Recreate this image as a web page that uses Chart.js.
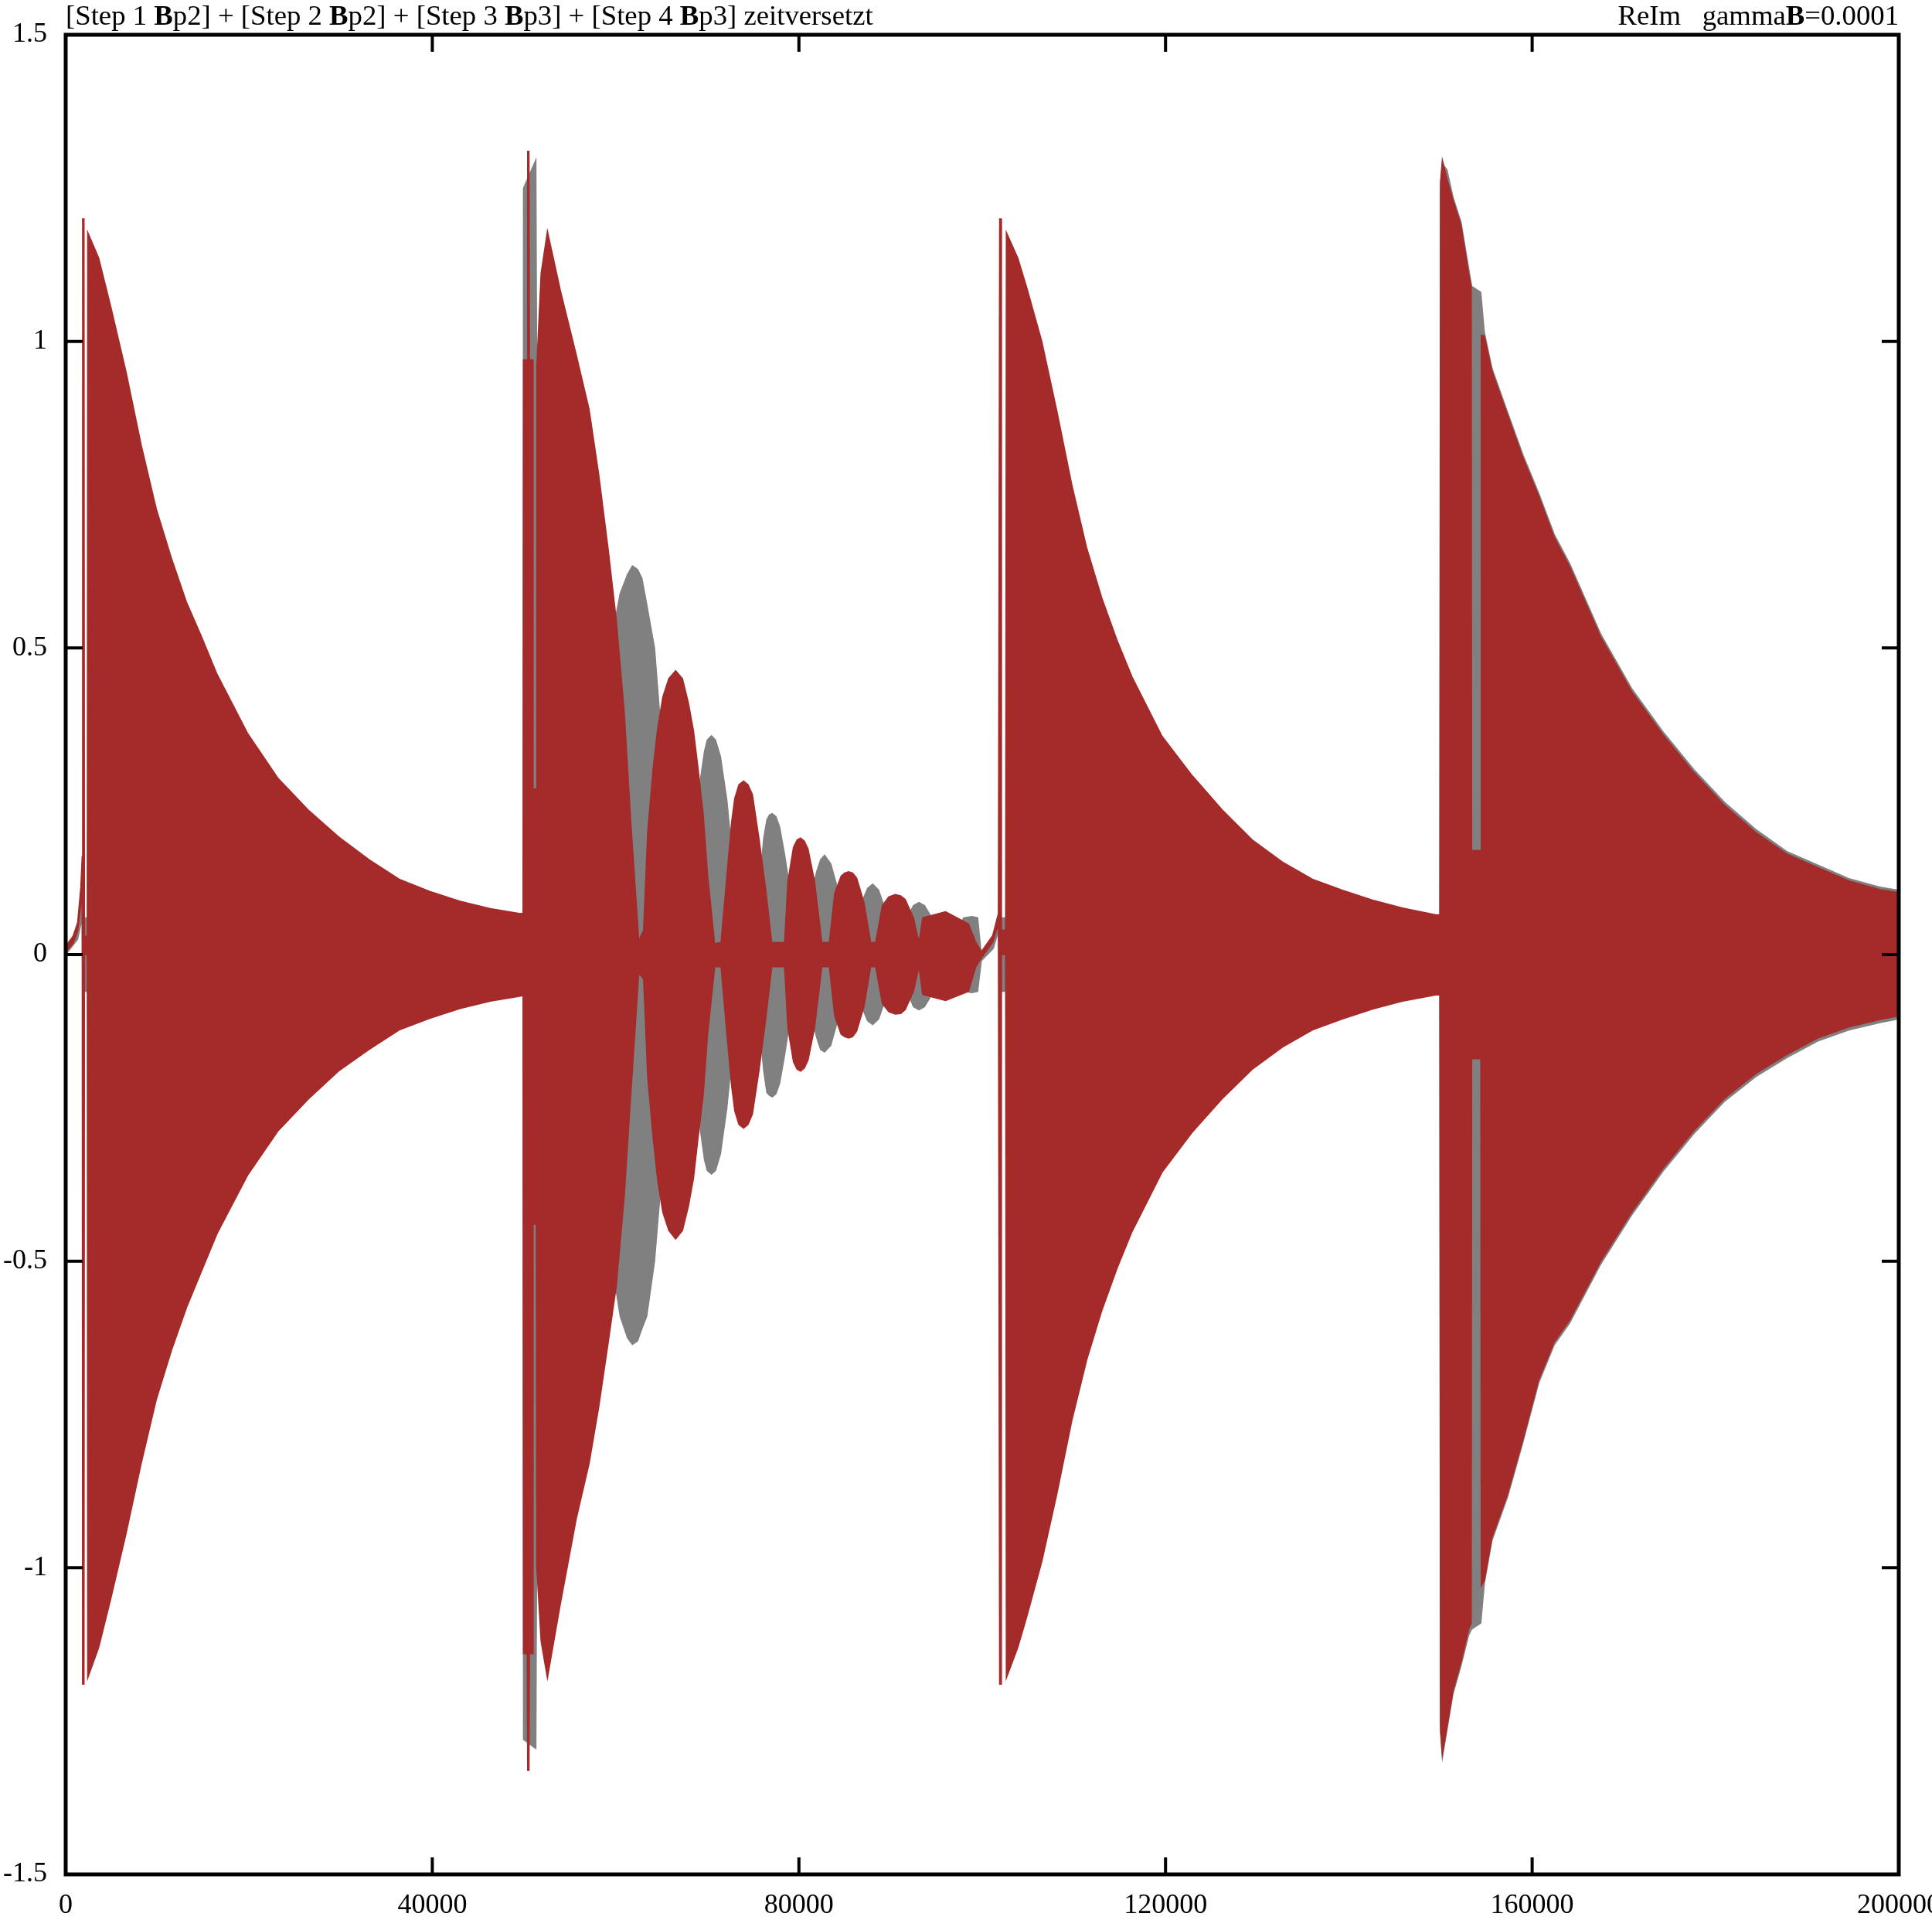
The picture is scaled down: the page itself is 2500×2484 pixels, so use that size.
<!DOCTYPE html>
<html>
<head>
<meta charset="utf-8">
<script src="https://cdn.jsdelivr.net/npm/chart.js@4.4.1/dist/chart.umd.min.js"></script>
<style>
  html, body { margin: 0; padding: 0; background: #fff; }
  canvas { display: block; }
</style>
</head>
<body>
<canvas id="grafico" width="2500" height="2484"></canvas>
<script>
// envelope of the Re trace (dark red)
const reX = [
  0, 800, 1300, 1650, 1800, 1850, 2000, 2050, 2350, 2400,
  3600, 4930, 6580, 8240, 9900, 11550, 13200, 14860, 16520, 19840,
  23140, 26450, 29770, 33090, 36380, 39710, 43030, 46330, 49480,
  49900, 49950, 50350, 50400, 50550, 50600, 50950, 51000, 51350, 51400,
  51870, 52560, 53960, 55710, 57110, 58160, 59200, 60080, 60950, 61650, 62530,
  63050, 63500, 64100, 64600, 65150, 65800, 66550, 67300, 67950, 68500, 68990, 69550, 70040, 70810,
  71500, 72140, 72660, 73000, 73450, 73960, 74450, 74930, 75640, 76340, 77040,
  78430, 78800, 79400, 79800, 80180, 80600, 81000, 81700, 82500,
  83320, 83900, 84600, 85000, 85420, 85850, 86300, 87100, 87830,
  88370, 89100, 89800, 90490, 91100, 91600, 92500, 93100,
  93500, 96000, 98500, 99300, 99920, 101140, 101760,
  101900, 102050, 102100, 102550, 102630, 103880, 104860, 106500, 108140, 109780,
  111420, 113060, 114700, 116340, 119620, 122900, 126180, 129460, 132740, 136020,
  139300, 142580, 145860, 149470,
  149930, 150000, 150200, 150700, 151370, 152230, 153070, 153350, 153400, 154400, 154450, 154780,
  155620, 157310, 159000, 160700, 162390, 164080, 167470, 170850, 174240, 177630,
  181010, 184400, 187780, 191170, 194560, 197940, 200000
];
const reTop = [
  0.014, 0.03, 0.052, 0.11, 0.16, 1.2, 1.2, 0.03, 0.03, 1.178,
  1.136, 1.056, 0.951, 0.831, 0.726, 0.646, 0.574, 0.517, 0.457, 0.361,
  0.288, 0.236, 0.192, 0.155, 0.123, 0.103, 0.087, 0.075, 0.067,
  0.067, 0.97, 0.97, 1.31, 1.31, 0.97, 0.97, 0.27, 0.27, 0.96,
  1.111, 1.18, 1.084, 0.978, 0.889, 0.783, 0.66, 0.545, 0.394, 0.217, 0.023,
  0.04, 0.2, 0.305, 0.37, 0.42, 0.45, 0.463, 0.45, 0.41, 0.365, 0.305, 0.23, 0.129, 0.018,
  0.02, 0.129, 0.217, 0.255, 0.277, 0.283, 0.277, 0.261, 0.19, 0.111, 0.02,
  0.02, 0.12, 0.175, 0.187, 0.19, 0.185, 0.172, 0.12, 0.02,
  0.02, 0.1, 0.128, 0.133, 0.135, 0.133, 0.125, 0.085, 0.02,
  0.02, 0.08, 0.094, 0.098, 0.096, 0.09, 0.06, 0.02,
  0.06, 0.07, 0.05, 0.02, 0.005, 0.031, 0.067,
  1.2, 1.2, 0.04, 0.04, 1.178, 1.136, 1.088, 1.0, 0.887, 0.766,
  0.662, 0.581, 0.513, 0.453, 0.356, 0.292, 0.236, 0.187, 0.151, 0.123,
  0.105, 0.089, 0.076, 0.065,
  0.065, 1.26, 1.296, 1.265, 1.23, 1.19, 1.11, 1.09, 0.17, 0.17, 1.01, 1.009,
  0.951, 0.88, 0.81, 0.748, 0.681, 0.633, 0.518, 0.429, 0.359, 0.297,
  0.243, 0.199, 0.164, 0.142, 0.12, 0.106, 0.101
];
const reBot = [
  0.004, 0.018, 0.038, 0.08, 0.12, -1.19, -1.19, 0.0, 0.0, -1.18,
  -1.13, -1.05, -0.945, -0.83, -0.725, -0.645, -0.575, -0.515, -0.455, -0.36,
  -0.288, -0.236, -0.19, -0.155, -0.123, -0.104, -0.088, -0.076, -0.068,
  -0.067, -1.14, -1.14, -1.33, -1.33, -1.14, -1.14, -0.44, -0.44, -1.0,
  -1.12, -1.18, -1.06, -0.92, -0.83, -0.738, -0.632, -0.54, -0.393, -0.23, -0.03,
  -0.04, -0.2, -0.3, -0.37, -0.42, -0.45, -0.464, -0.45, -0.41, -0.365, -0.3, -0.23, -0.13, -0.02,
  -0.02, -0.13, -0.215, -0.255, -0.277, -0.283, -0.277, -0.26, -0.19, -0.11, -0.02,
  -0.02, -0.12, -0.175, -0.187, -0.19, -0.185, -0.172, -0.12, -0.02,
  -0.02, -0.1, -0.13, -0.134, -0.136, -0.134, -0.125, -0.085, -0.02,
  -0.02, -0.08, -0.093, -0.097, -0.096, -0.09, -0.06, -0.02,
  -0.065, -0.075, -0.06, -0.02, -0.005, 0.02, 0.05,
  -1.19, -1.19, 0.0, 0.0, -1.18, -1.13, -1.08, -0.99, -0.88, -0.76,
  -0.66, -0.58, -0.512, -0.452, -0.355, -0.29, -0.235, -0.187, -0.151, -0.123,
  -0.105, -0.089, -0.076, -0.066,
  -0.066, -1.26, -1.304, -1.26, -1.2, -1.154, -1.1, -1.09, -0.17, -0.17, -1.03, -1.021,
  -0.95, -0.88, -0.79, -0.694, -0.632, -0.596, -0.5, -0.42, -0.349, -0.287,
  -0.234, -0.194, -0.163, -0.136, -0.118, -0.106, -0.1
];

// envelope of the Im trace (grey), mostly hidden under the red one
const imX = [
  0, 1300, 1800, 1850, 49480,
  49900, 49950, 51300, 51400, 57000, 59200, 60000, 60500, 61300, 61830, 62400, 62870, 63400, 64250, 64800, 66000,
  68000, 69190, 69700, 70000, 70460, 70900, 71440, 72140, 73000, 73960,
  75600, 76160, 76500, 76800, 77100, 77500, 77900, 78430, 79300, 80180,
  81200, 81930, 82370, 82800, 83480, 84180, 85420,
  86700, 87500, 88050, 88700, 89500, 90490,
  91800, 92500, 93100, 93700, 94500, 95500,
  96500, 98000, 98880, 99500, 99900, 101200, 101800,
  101900, 149470,
  149930, 150000, 150200, 150700, 151370, 152230, 153070, 153400, 154400, 154780,
  155620, 157310, 159000, 160700, 162390, 164080, 167470, 170850, 174240, 177630,
  181010, 184400, 187780, 191170, 194560, 197940, 200000
];
const imTop = [
  0.006, 0.035, 0.09, 0.06, 0.06,
  0.06, 1.25, 1.296, 0.9, 0.0, 0.4, 0.55, 0.589, 0.62, 0.634, 0.628, 0.614, 0.571, 0.5, 0.394, 0.02,
  0.15, 0.279, 0.332, 0.35, 0.357, 0.35, 0.323, 0.252, 0.12, 0.02,
  0.1, 0.19, 0.22, 0.228, 0.23, 0.225, 0.208, 0.164, 0.08, 0.02,
  0.09, 0.135, 0.155, 0.162, 0.148, 0.11, 0.02,
  0.08, 0.108, 0.115, 0.105, 0.07, 0.02,
  0.06, 0.08, 0.085, 0.08, 0.06, 0.03,
  0.03, 0.06, 0.062, 0.06, 0.0, 0.02, 0.05,
  0.06, 0.06,
  0.06, 1.25, 1.29, 1.28, 1.235, 1.195, 1.12, 1.09, 1.08, 1.015,
  0.956, 0.885, 0.815, 0.753, 0.686, 0.638, 0.523, 0.434, 0.364, 0.302,
  0.248, 0.204, 0.168, 0.146, 0.124, 0.11, 0.105
];
const imBot = [
  0.0, 0.025, 0.06, -0.06, -0.06,
  -0.06, -1.28, -1.295, -0.9, 0.0, -0.4, -0.543, -0.59, -0.625, -0.636, -0.63, -0.61, -0.59, -0.5, -0.4, -0.02,
  -0.15, -0.28, -0.335, -0.352, -0.358, -0.352, -0.325, -0.25, -0.12, -0.02,
  -0.1, -0.19, -0.225, -0.23, -0.232, -0.227, -0.21, -0.165, -0.08, -0.02,
  -0.09, -0.135, -0.155, -0.159, -0.148, -0.11, -0.02,
  -0.08, -0.108, -0.114, -0.105, -0.07, -0.02,
  -0.06, -0.085, -0.09, -0.085, -0.065, -0.03,
  -0.03, -0.06, -0.062, -0.06, -0.01, 0.01, 0.04,
  -0.06, -0.06,
  -0.06, -1.27, -1.31, -1.265, -1.205, -1.16, -1.11, -1.10, -1.09, -1.026,
  -0.955, -0.885, -0.795, -0.699, -0.637, -0.601, -0.505, -0.425, -0.354, -0.292,
  -0.239, -0.199, -0.168, -0.141, -0.123, -0.111, -0.105
];

const xTicks = [0, 40000, 80000, 120000, 160000, 200000];
const yTicks = [-1.5, -1, -0.5, 0, 0.5, 1, 1.5];

const tituloEsq = [
  ['[Step 1 ', false], ['B', true], ['p2] + [Step 2 ', false], ['B', true],
  ['p2] + [Step 3 ', false], ['B', true], ['p3] + [Step 4 ', false], ['B', true],
  ['p3] zeitversetzt', false]
];
const tituloDir = [['ReIm   gamma', false], ['B', true], ['=0.0001', false]];

const corRe = '#a52a2a';
const corIm = '#808080';
const fonte = '"Liberation Serif", "DejaVu Serif", serif';

function pontos(xs, ys) {
  return xs.map((x, i) => ({ x: x, y: ys[i] }));
}

function larguraTexto(ctx, partes, tamanho) {
  let w = 0;
  partes.forEach(([txt, negrito]) => {
    ctx.font = (negrito ? 'bold ' : '') + tamanho + 'px ' + fonte;
    w += ctx.measureText(txt).width;
  });
  return w;
}

function desenhaTexto(ctx, partes, x, y, tamanho) {
  let px = x;
  partes.forEach(([txt, negrito]) => {
    ctx.font = (negrito ? 'bold ' : '') + tamanho + 'px ' + fonte;
    ctx.fillText(txt, px, y);
    px += ctx.measureText(txt).width;
  });
}

const molduraGnuplot = {
  id: 'molduraGnuplot',
  beforeDraw(chart) {
    const ctx = chart.ctx;
    ctx.save();
    ctx.fillStyle = '#fff';
    ctx.fillRect(0, 0, chart.width, chart.height);
    ctx.restore();
  },
  afterDraw(chart) {
    const { ctx, chartArea: a, scales: { x, y } } = chart;
    ctx.save();
    ctx.strokeStyle = '#000';
    ctx.lineWidth = 4;
    ctx.beginPath();
    xTicks.forEach(v => {
      const px = x.getPixelForValue(v);
      ctx.moveTo(px, a.bottom); ctx.lineTo(px, a.bottom - 22);
      ctx.moveTo(px, a.top); ctx.lineTo(px, a.top + 22);
    });
    yTicks.forEach(v => {
      const py = y.getPixelForValue(v);
      ctx.moveTo(a.left, py); ctx.lineTo(a.left + 22, py);
      ctx.moveTo(a.right, py); ctx.lineTo(a.right - 22, py);
    });
    ctx.stroke();
    ctx.lineWidth = 5;
    ctx.strokeRect(a.left, a.top, a.right - a.left, a.bottom - a.top);

    ctx.fillStyle = '#000';
    ctx.font = '36px ' + fonte;
    ctx.textAlign = 'right';
    ctx.textBaseline = 'middle';
    yTicks.forEach(v => {
      ctx.fillText(String(v), a.left - 24, y.getPixelForValue(v));
    });
    ctx.textAlign = 'center';
    xTicks.forEach(v => {
      ctx.fillText(String(v), x.getPixelForValue(v), a.bottom + 41);
    });

    // titles: fit the left one to its width in the reference
    ctx.textAlign = 'left';
    ctx.textBaseline = 'alphabetic';
    const tam = 36 * 1045 / larguraTexto(ctx, tituloEsq, 36);
    desenhaTexto(ctx, tituloEsq, a.left, 32, tam);
    const wDir = larguraTexto(ctx, tituloDir, tam);
    desenhaTexto(ctx, tituloDir, a.right - wDir, 32, tam);
    ctx.restore();
  }
};

function envelope(xs, ys, cor, preencher) {
  return {
    data: pontos(xs, ys),
    borderColor: cor,
    backgroundColor: cor,
    borderWidth: 1.5,
    pointRadius: 0,
    tension: 0,
    fill: preencher ? '+1' : false
  };
}

new Chart(document.getElementById('grafico').getContext('2d'), {
  type: 'line',
  data: {
    datasets: [
      envelope(reX, reTop, corRe, true),
      envelope(reX, reBot, corRe, false),
      envelope(imX, imTop, corIm, true),
      envelope(imX, imBot, corIm, false)
    ]
  },
  options: {
    responsive: false,
    animation: false,
    devicePixelRatio: 1,
    layout: { padding: { top: 45, left: 85, right: 43, bottom: 59 } },
    plugins: {
      legend: { display: false },
      tooltip: { enabled: false }
    },
    scales: {
      x: { type: 'linear', min: 0, max: 200000, display: false },
      y: { type: 'linear', min: -1.5, max: 1.5, display: false }
    }
  },
  plugins: [molduraGnuplot]
});
</script>
</body>
</html>
